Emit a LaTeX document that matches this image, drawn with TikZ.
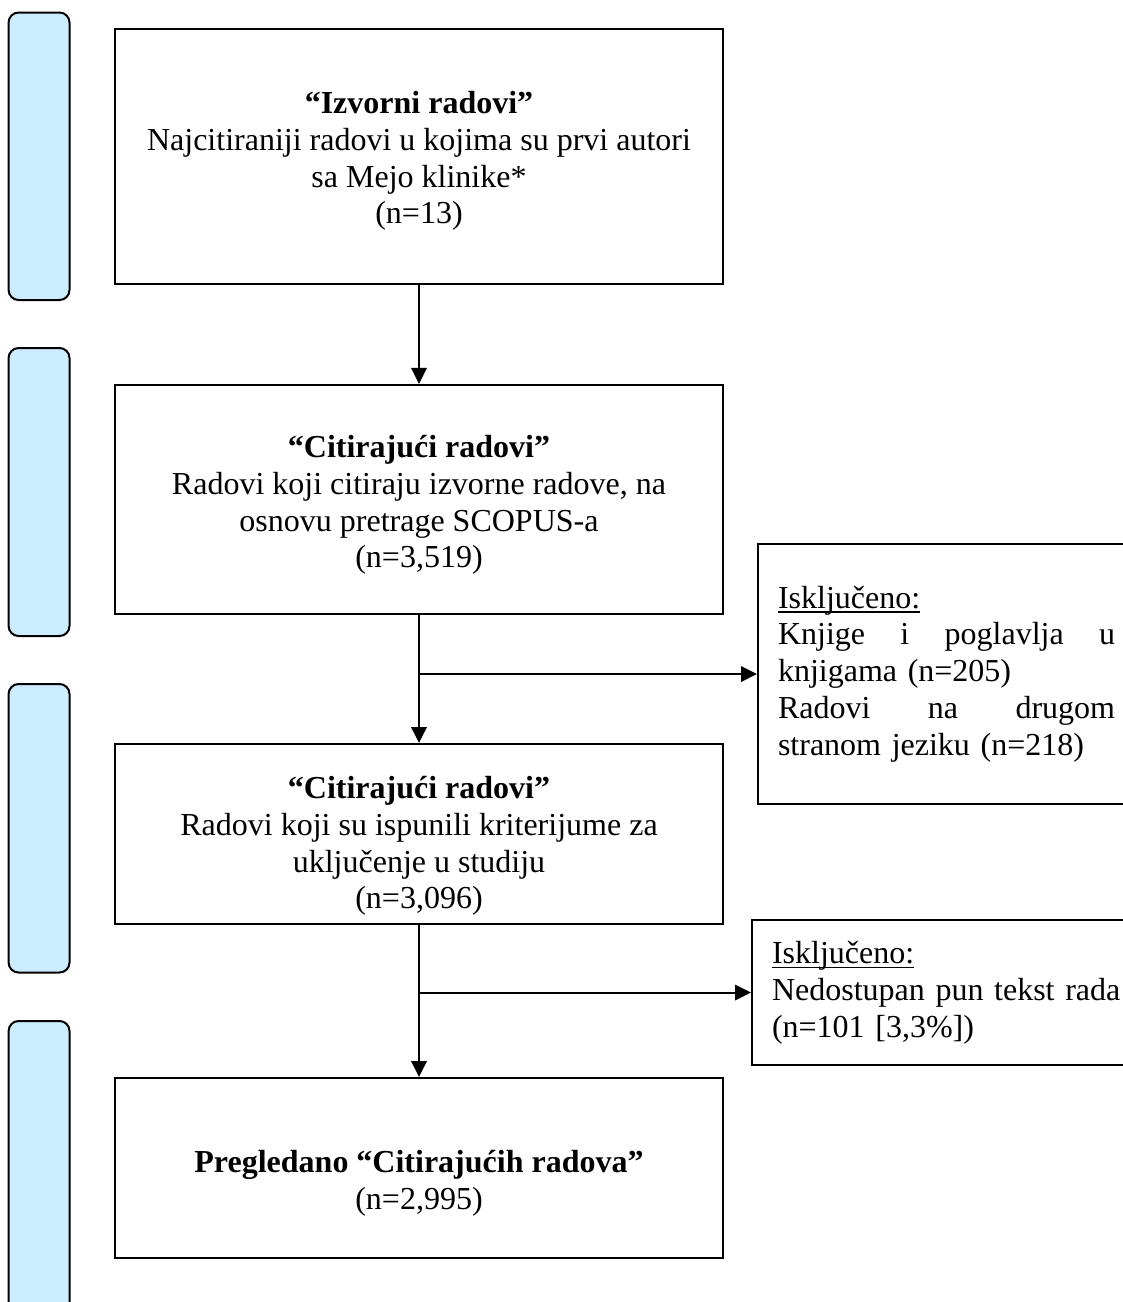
\documentclass[tikz,border=0pt]{standalone}
\usepackage{fontspec}
\setmainfont{Liberation Serif}
\usetikzlibrary{arrows.meta}
\definecolor{phaseblue}{RGB}{204,236,255}
% justified line of the excluded boxes, and the close underline of their heads
\newcommand{\spreadline}[2][126.4pt]{\makebox[#1][l]{#2}}
\newcommand{\ulhead}[1]{\setbox0\hbox{#1}\rlap{\rule[-1.8pt]{\wd0}{0.6pt}}\box0}

\begin{document}
\begin{tikzpicture}[x=0.375pt, y=-0.375pt, line width=0.75pt,
	every node/.style={font=\fontsize{12}{13.8}\selectfont},
	flow/.style={-{Triangle[length=6pt,width=5.8pt]}}]
	
	% Page frame, the excluded boxes and the last bar run off the page.
	\useasboundingbox (0,0) rectangle (1123,1302);
	\clip (0,0) rectangle (1123,1302);
	
	% Blue bars on the left
	\foreach \top/\bot in {12.5/300, 348/636, 684/972.5, 1021/1340}
		\draw [fill=phaseblue, rounded corners=3.75pt] (8.6,\top) rectangle (69.5,\bot);
	
	\begin{scope}[every node/.style={draw,rectangle,font=\fontsize{12}{13.8}\selectfont}, inner sep=0pt]
		\tikzstyle{stagebox}=[minimum width=228pt]
		\tikzstyle{exbox}=[align=left, inner xsep=7.5pt, inner ysep=0pt, anchor=west]
		
		\node [stagebox, minimum height=95.8pt] (src) at (419,156.3) {};
		\node [stagebox, minimum height=85.9pt] (cit) at (419,499.5) {};
		\node [stagebox, minimum height=67.5pt] (incl) at (419,834) {};
		\node [stagebox, minimum height=67.5pt] (rev) at (419,1168) {};
		
		\node [exbox, text width=140pt, minimum height=97.5pt] (excA) at (757,674) {%
			\ulhead{Isključeno:}\\
			\spreadline{Knjige\hfill i\hfill poglavlja\hfill u}\\
			knjigama (n=205)\\
			\spreadline{Radovi\hfill na\hfill drugom}\\
			stranom jeziku (n=218)};
		\node [exbox, text width=145pt, minimum height=54.4pt] (excB) at (751,992.5) {%
			\ulhead{Isključeno:}\\
			Nedostupan pun tekst rada\\
			(n=101 [3,3\%])};
	\end{scope}
	
	% Texts of the stage boxes
	\begin{scope}[every node/.style={align=center,font=\fontsize{12}{13.8}\selectfont}]
		\node (srcText) at (419,161) {\textbf{“Izvorni radovi”}\\
			Najcitiraniji radovi u kojima su prvi autori\\
			sa Mejo klinike*\\
			(n=13)};
		\node (citText) at (419,505) {\textbf{“Citirajući radovi”}\\
			Radovi koji citiraju izvorne radove, na\\
			osnovu pretrage SCOPUS-a\\
			(n=3,519)};
		\node (inclText) at (419,846) {\textbf{“Citirajući radovi”}\\
			Radovi koji su ispunili kriterijume za\\
			uključenje u studiju\\
			(n=3,096)};
		\node (revText) at (419,1183) {\textbf{Pregledano “Citirajućih radova”}\\
			(n=2,995)};
	\end{scope}
	
	\draw [flow] (src) -- (cit);
	\draw [flow] (cit) -- (incl);
	\draw [flow] (cit.south |- excA.west) -- (excA.west);
	\draw [flow] (incl) -- (rev);
	\draw [flow] (incl.south |- excB.west) -- (excB.west);
	
\end{tikzpicture}
\end{document}
